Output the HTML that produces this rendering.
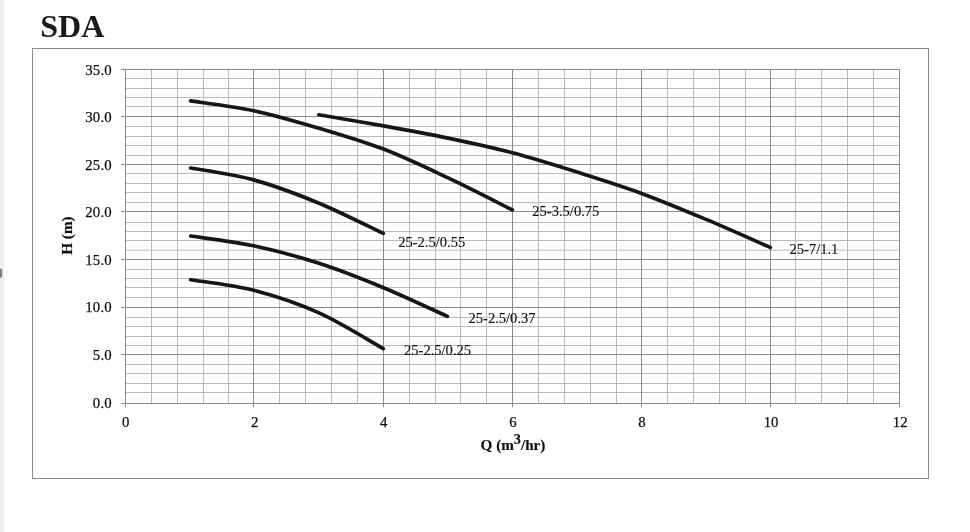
<!DOCTYPE html>
<html lang="en"><head><meta charset="utf-8"><title>SDA</title>
<style>
html,body{margin:0;padding:0;background:#fff;}
body{width:970px;height:532px;overflow:hidden;position:relative;}
svg{position:absolute;left:0;top:0;display:block;}
text{font-family:"Liberation Serif","Times New Roman",serif;fill:#111;}
.t{font-size:32px;font-weight:bold;fill:#1a1a1a;}
.a{font-size:14.8px;stroke:#111;stroke-width:0.25px;}
.y{letter-spacing:0.15px;}
.d{font-size:14.55px;stroke:#111;stroke-width:0.12px;}
.b{font-size:15.2px;font-weight:bold;stroke:#111;stroke-width:0.2px;}
</style></head><body>
<svg width="970" height="532" viewBox="0 0 970 532">
<defs><linearGradient id="lg" x1="0" x2="1" y1="0" y2="0"><stop offset="0" stop-color="#ededed"/><stop offset="0.7" stop-color="#f1f1f1"/><stop offset="1" stop-color="#ffffff"/></linearGradient></defs>
<rect x="0" y="0" width="970" height="532" fill="#ffffff"/>
<rect x="0" y="0" width="5" height="532" fill="url(#lg)"/>
<polygon points="0,268 2.2,270 2.2,276.5 0,278.5" fill="#808080"/>
<text class="t" x="40.3" y="37.2">SDA</text>
<rect x="32.5" y="48.5" width="896" height="430" fill="#ffffff" stroke="#8a8a8a" stroke-width="1"/>
<path d="M125.5 78.5H899.5M125.5 88.5H899.5M125.5 97.5H899.5M125.5 106.5H899.5M125.5 126.5H899.5M125.5 136.5H899.5M125.5 145.5H899.5M125.5 155.5H899.5M125.5 173.5H899.5M125.5 183.5H899.5M125.5 192.5H899.5M125.5 202.5H899.5M125.5 222.5H899.5M125.5 231.5H899.5M125.5 240.5H899.5M125.5 250.2H899.5M125.5 269.5H899.5M125.5 278.5H899.5M125.5 287.5H899.5M125.5 297.5H899.5M125.5 317.5H899.5M125.5 326.5H899.5M125.5 336.5H899.5M125.5 345.5H899.5M125.5 364.5H899.5M125.5 373.5H899.5M125.5 383.5H899.5M125.5 392.5H899.5M151.5 69.5V403.5M177.5 69.5V403.5M203.5 69.5V403.5M228.5 69.5V403.5M279.5 69.5V403.5M305.5 69.5V403.5M331.5 69.5V403.5M357.5 69.5V403.5M409.5 69.5V403.5M435.5 69.5V403.5M460.5 69.5V403.5M486.5 69.5V403.5M538.5 69.5V403.5M564.5 69.5V403.5M590.5 69.5V403.5M616.5 69.5V403.5M667.5 69.5V403.5M693.5 69.5V403.5M719.5 69.5V403.5M745.5 69.5V403.5M795.5 69.5V403.5M821.5 69.5V403.5M847.5 69.5V403.5M873.5 69.5V403.5" stroke="#bbbbbb" stroke-width="1" fill="none"/>
<path d="M121.0 69.5H899.5M121.0 116.5H899.5M121.0 164.5H899.5M121.0 211.5H899.5M121.0 259.5H899.5M121.0 307.5H899.5M121.0 354.5H899.5M121.0 403.5H899.5M125.5 69.5V407.0M253.5 69.5V407.0M383.5 69.5V407.0M512.5 69.5V407.0M641.5 69.5V407.0M770.5 69.5V407.0M899.5 69.5V407.0" stroke="#8b8b8b" stroke-width="1" fill="none"/>
<text class="a y" x="111.8" y="74.70" text-anchor="end">35.0</text>
<text class="a y" x="111.8" y="122.25" text-anchor="end">30.0</text>
<text class="a y" x="111.8" y="169.80" text-anchor="end">25.0</text>
<text class="a y" x="111.8" y="217.35" text-anchor="end">20.0</text>
<text class="a y" x="111.8" y="264.90" text-anchor="end">15.0</text>
<text class="a y" x="111.8" y="312.45" text-anchor="end">10.0</text>
<text class="a y" x="111.8" y="360.00" text-anchor="end">5.0</text>
<text class="a y" x="111.8" y="407.55" text-anchor="end">0.0</text>
<text class="a" x="125.6" y="426.7" text-anchor="middle">0</text>
<text class="a" x="254.7" y="426.7" text-anchor="middle">2</text>
<text class="a" x="383.8" y="426.7" text-anchor="middle">4</text>
<text class="a" x="512.9" y="426.7" text-anchor="middle">6</text>
<text class="a" x="642.0" y="426.7" text-anchor="middle">8</text>
<text class="a" x="771.1" y="426.7" text-anchor="middle">10</text>
<text class="a" x="900.2" y="426.7" text-anchor="middle">12</text>
<text class="b" transform="translate(72.2 235.6) rotate(-90)" text-anchor="middle">H (m)</text>
<text class="b" x="480.6" y="449.7">Q (m<tspan dy="-6" dx="-0.3" font-size="14.2px">3</tspan><tspan dy="6" dx="0.2">/hr)</tspan></text>
<path d="M318.8 114.8 C329.6 116.7 361.9 122.0 383.5 125.9 C405.1 129.8 426.6 133.6 448.1 138.1 C469.6 142.6 491.0 147.2 512.5 152.8 C534.0 158.5 555.6 165.3 577.1 172.1 C598.6 178.9 620.0 185.5 641.5 193.4 C663.0 201.3 684.6 210.4 706.1 219.4 C727.6 228.4 759.6 242.8 770.3 247.5" stroke="#161616" stroke-width="3.7" fill="none" stroke-linecap="round" stroke-linejoin="round"/>
<path d="M190.6 100.9 C201.1 102.5 232.3 106.2 253.7 110.7 C275.1 115.2 297.4 121.8 319.0 128.2 C340.6 134.6 362.0 140.8 383.5 149.1 C405.0 157.4 426.6 167.8 448.1 177.9 C469.6 188.0 501.6 204.6 512.3 209.9" stroke="#161616" stroke-width="3.7" fill="none" stroke-linecap="round" stroke-linejoin="round"/>
<path d="M190.6 168.0 C201.1 170.0 232.3 174.0 253.7 179.9 C275.1 185.8 297.4 194.3 319.0 203.2 C340.6 212.1 372.6 228.4 383.3 233.4" stroke="#161616" stroke-width="3.7" fill="none" stroke-linecap="round" stroke-linejoin="round"/>
<path d="M190.7 236.0 C201.2 237.6 232.3 241.2 253.7 245.8 C275.1 250.3 297.4 256.3 319.0 263.3 C340.6 270.3 362.1 278.9 383.5 287.7 C404.9 296.5 436.8 311.6 447.4 316.4" stroke="#161616" stroke-width="3.7" fill="none" stroke-linecap="round" stroke-linejoin="round"/>
<path d="M190.7 279.7 C201.2 281.5 232.3 284.8 253.7 290.3 C275.1 295.8 297.4 303.2 319.0 312.9 C340.6 322.6 372.6 342.7 383.3 348.6" stroke="#161616" stroke-width="3.7" fill="none" stroke-linecap="round" stroke-linejoin="round"/>
<text class="d" x="532.3" y="216.0">25-3.5/0.75</text>
<text class="d" x="789.5" y="253.7">25-7/1.1</text>
<text class="d" x="398.2" y="246.8">25-2.5/0.55</text>
<text class="d" x="468.5" y="322.9">25-2.5/0.37</text>
<text class="d" x="404.0" y="355.0">25-2.5/0.25</text>
</svg>
</body></html>
